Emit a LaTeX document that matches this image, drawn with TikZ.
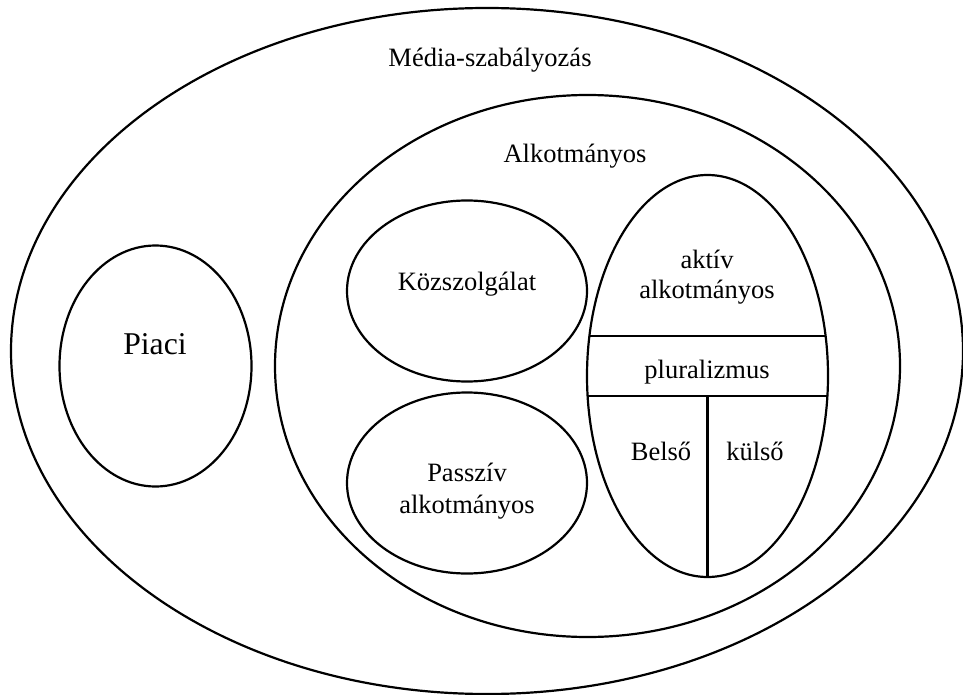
\documentclass[tikz,border=0pt]{standalone}
\usepackage{fontspec}
\setmainfont{Liberation Serif}
\usetikzlibrary{shapes.geometric}
\begin{document}
\begin{tikzpicture}[x=1pt,y=-1pt,
  blob/.style={ellipse, draw, line width=2.2pt, inner sep=0pt, outer sep=0pt},
  lbl/.style={anchor=base, inner sep=0pt, font=\fontsize{26.5}{31}\selectfont},
  biglbl/.style={anchor=base, inner sep=0pt, font=\fontsize{31.7}{37}\selectfont},
  divider/.style={line width=2.2pt}]
\useasboundingbox (0,0) rectangle (963,695);
% ellipses
\node[blob, minimum width=952pt, minimum height=686pt] (outer) at (487,351) {};
\node[blob, minimum width=625pt, minimum height=542pt] (inner) at (587.5,366) {};
\node[blob, minimum width=192pt, minimum height=241pt] (piaciE) at (155.5,366) {};
\node[blob, minimum width=240pt, minimum height=181pt] (kozE) at (467,291) {};
\node[blob, minimum width=240pt, minimum height=181pt] (passE) at (467,483) {};
\node[blob, minimum width=241pt, minimum height=402pt] (rightE) at (707.5,376) {};
% divider end points
\coordinate (l1a) at (589.0,335.7);
\coordinate (l1b) at (826.0,335.7);
\coordinate (l2a) at (587.3,396);
\coordinate (l2b) at (827.7,396);
\coordinate (vtop) at (707.5,396);
\draw[divider] (l1a) -- (l1b);
\draw[divider] (l2a) -- (l2b);
\draw[divider] (vtop) -- (rightE.south);
% labels
\node[lbl] (title) at (490,67) {Média-szabályozás};
\node[lbl] (alk) at (575,162.7) {Alkotmányos};
\node[biglbl] (piaci) at (155,354) {Piaci};
\node[lbl] (koz) at (467,290.7) {Közszolgálat};
\node[lbl] (passA) at (467,481.7) {Passzív};
\node[lbl] (passB) at (467,513) {alkotmányos};
\node[lbl] (aktA) at (707,268) {aktív};
\node[lbl] (aktB) at (707,298) {alkotmányos};
\node[lbl] (plur) at (707,378) {pluralizmus};
\node[lbl] (belso) at (661,460) {Belső};
\node[lbl] (kulso) at (755,460) {külső};
\end{tikzpicture}
\end{document}
